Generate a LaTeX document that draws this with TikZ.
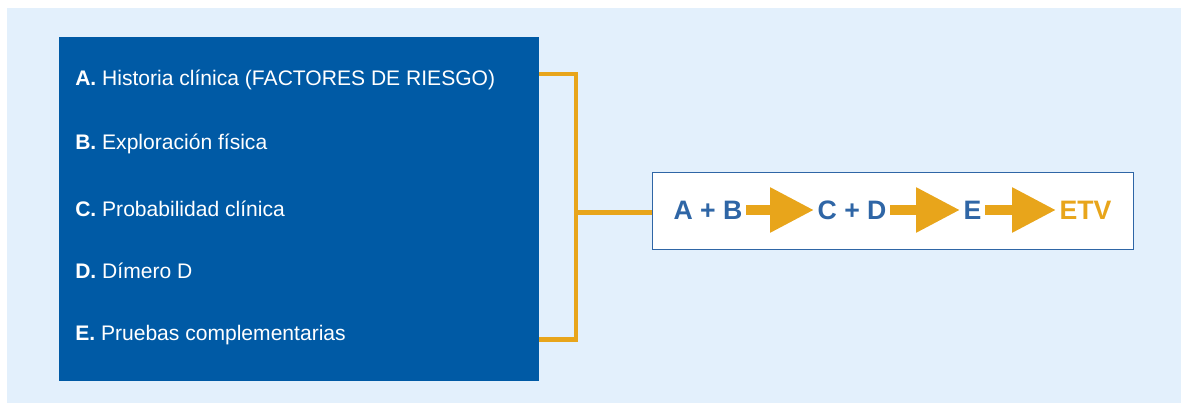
\documentclass[tikz,border=0pt]{standalone}
\usepackage{fontspec}
\setmainfont{Liberation Sans}
\usepackage{xcolor}
\usetikzlibrary{arrows.meta}

\definecolor{fondo}{HTML}{E3F0FC}
\definecolor{azul}{HTML}{005AA5}
\definecolor{naranja}{HTML}{E8A51B}
\definecolor{azulcad}{HTML}{2F66A6}

\begin{document}
\begin{tikzpicture}[x=0.75pt,y=-0.75pt,>=latex,
  item/.style={anchor=west,text=white,inner sep=0pt,font=\fontsize{15.8}{19}\selectfont},
  paso/.style={text=azulcad,inner xsep=2.5pt,inner ysep=0pt,font=\fontsize{20}{24}\selectfont\bfseries},
  flecha/.style={draw=naranja,line width=7.5pt,-{Triangle[length=33pt,width=32pt]}},
  corchete/.style={draw=naranja,line width=3.4pt}]

%Fondo
\useasboundingbox (0,0) rectangle (1181,403);
\fill[fondo] (7,8) rectangle (1181,403);

%Recuadro azul
\node[fill=azul,anchor=north west,inner sep=0pt,minimum width=360pt,minimum height=258pt] (panel) at (59,37) {};
\node[item] (a) at (75,80) {\textbf{A.} Historia clínica (FACTORES DE RIESGO)};
\node[item] (b) at (75,144) {\textbf{B.} Exploración física};
\node[item] (c) at (75,209) {\textbf{C.} Probabilidad clínica};
\node[item] (d) at (75,271) {\textbf{D.} Dímero D};
\node[item] (e) at (75,335) {\textbf{E.} Pruebas complementarias};

%Cadena
\node[draw=azulcad,line width=1.1pt,fill=white,anchor=north west,inner sep=0pt,minimum width=360.75pt,minimum height=57.75pt] (cadena) at (652,172) {};
\node[paso,anchor=west] (ab) at (670,210) {A + B};
\node[paso,anchor=west] (cd) at (814,210) {C + D};
\node[paso,anchor=west] (ee) at (960,210) {E};
\node[paso,anchor=west,text=naranja] (etv) at (1056,210) {ETV};
\draw[flecha] (ab) -- (cd);
\draw[flecha] (cd) -- (ee);
\draw[flecha] (ee) -- (etv);

%Corchete
\coordinate (arriba) at (539,74);
\coordinate (abajo) at (539,339.5);
\coordinate (medio) at (576,212.5);
\draw[corchete,line join=miter] (arriba) -| (medio) |- (abajo);
\draw[corchete] (medio) -- (medio -| cadena.west);

\end{tikzpicture}
\end{document}
